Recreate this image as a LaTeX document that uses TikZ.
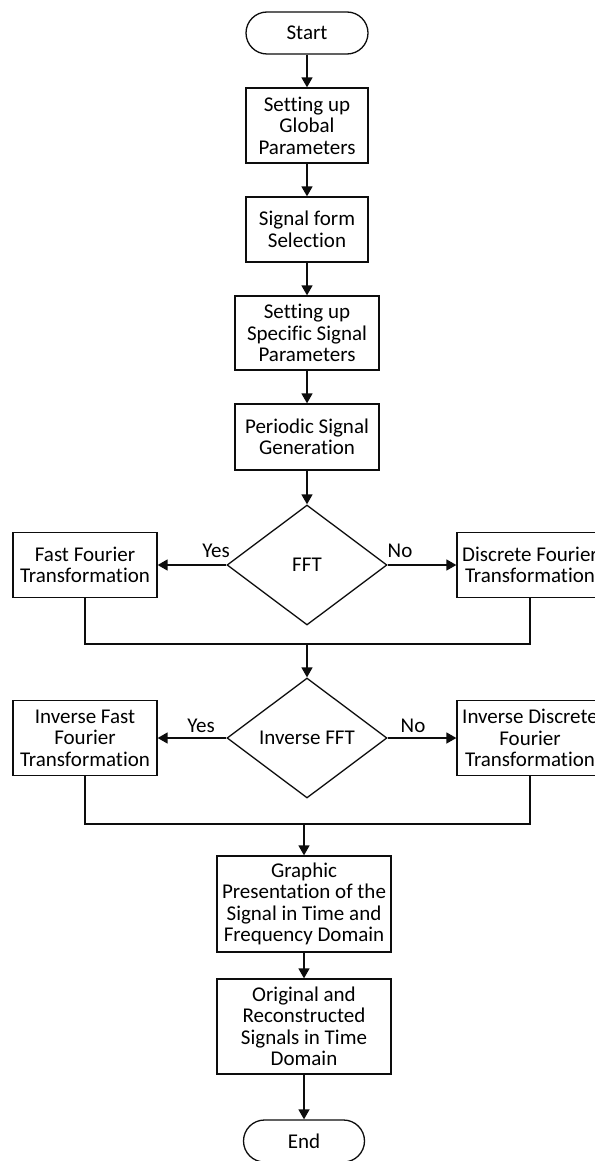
\documentclass[tikz,border=0pt]{standalone}
\usepackage{fontspec}
\setmainfont{Carlito}[Ligatures=NoCommon]
\usetikzlibrary{shapes.geometric, arrows.meta}
\definecolor{flowline}{gray}{0.05}

\begin{document}
\begin{tikzpicture}[x=1pt, y=-1pt,
		every node/.style={font=\fontsize{21}{21.5}\selectfont, align=center},
		proc/.style={draw=flowline, line width=1.3pt, inner sep=0pt},
		term/.style={proc, rounded corners=21pt, minimum width=122pt, minimum height=42pt},
		test/.style={proc, diamond, minimum width=160pt, minimum height=120pt},
		flow/.style={draw=flowline, line width=1.6pt, -{Triangle[length=10pt, width=11pt]}},
		merge/.style={draw=flowline, line width=1.6pt}]
	\useasboundingbox (0,0) rectangle (594,1161);
	\fill[white] (0,0) rectangle (594,1161);

	\node[term] (start) at (307,33) {Start};
	\node[proc, minimum width=122pt, minimum height=75pt] (glob) at (307,125.5) {Setting up\\Global\\Parameters};
	\node[proc, minimum width=122pt, minimum height=65pt] (form) at (307,229.5) {Signal form\\Selection};
	\node[proc, minimum width=144pt, minimum height=74pt] (spec) at (307,333) {Setting up\\Specific Signal\\Parameters};
	\node[proc, minimum width=144pt, minimum height=66pt] (gen) at (307,437) {Periodic Signal\\Generation};

	\node[test] (fft) at (307,565) {FFT};
	\node[proc, minimum width=144pt, minimum height=65pt] (ffast) at (85,565) {Fast Fourier\\Transformation};
	\node[proc, minimum width=146pt, minimum height=65pt] (dft) at (530,565) {Discrete Fourier\\Transformation};
	\node (yes1) at (216,551) {Yes};
	\node (no1) at (400,551) {No};
	\coordinate (m1) at (307,644);

	\node[test] (ifft) at (307,738) {Inverse FFT};
	\node[proc, minimum width=144pt, minimum height=75pt] (ifast) at (85,738) {Inverse Fast\\Fourier\\Transformation};
	\node[proc, minimum width=146pt, minimum height=75pt] (idft) at (530,738) {Inverse Discrete\\Fourier\\Transformation};
	\node (yes2) at (201,726) {Yes};
	\node (no2) at (413,726) {No};
	\coordinate (m2) at (304,824);

	\node[proc, minimum width=174pt, minimum height=96pt] (graph) at (304,904) {Graphic\\Presentation of the\\Signal in Time and\\Frequency Domain};
	\node[proc, minimum width=174pt, minimum height=95pt] (orig) at (304,1026.5) {Original and\\Reconstructed\\Signals in Time\\Domain};
	\node[term, minimum width=121pt] (stop) at (304,1141) {End};

	\draw[flow] (start) -- (glob);
	\draw[flow] (glob) -- (form);
	\draw[flow] (form) -- (spec);
	\draw[flow] (spec) -- (gen);
	\draw[flow] (gen) -- (fft);
	\draw[flow] (fft.west) -- (ffast.east);
	\draw[flow] (fft.east) -- (dft.west);
	\draw[merge] (ffast.south) |- (m1) -| (dft.south);
	\draw[flow] (m1) -- (ifft.north);
	\draw[flow] (ifft.west) -- (ifast.east);
	\draw[flow] (ifft.east) -- (idft.west);
	\draw[merge] (ifast.south) |- (m2) -| (idft.south);
	\draw[flow] (m2) -- (graph.north);
	\draw[flow] (graph) -- (orig);
	\draw[flow] (orig) -- (stop);
\end{tikzpicture}
\end{document}
